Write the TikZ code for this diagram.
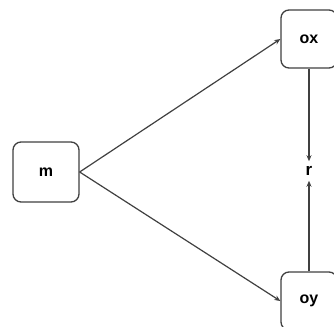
\documentclass[tikz,border=0pt]{standalone}
\usepackage{fontspec}
\setmainfont{Liberation Sans}
\usetikzlibrary{arrows.meta}
\begin{document}
\begin{tikzpicture}[x=1pt,y=-1pt,
  box/.style={draw=black!75, line width=1.3pt, rounded corners=8pt, fill=white,
    minimum width=66pt, minimum height=60pt, inner sep=0pt, font=\bfseries\fontsize{16}{17}\selectfont},
  box2/.style={box, minimum width=56pt, minimum height=58pt},
  lbl/.style={inner sep=5pt, font=\bfseries\fontsize{17}{18}\selectfont},
  arr/.style={draw=black!75, line width=1.2pt, -{Stealth[length=6pt,width=5pt]}}]
\useasboundingbox (0,0) rectangle (334,326);
\node[box] (m) at (46,172) {m};
\node[box2] (ox) at (309,39) {ox};
\node[box2] (oy) at (309,301) {oy};
\node[lbl] (r) at (309,171) {r};
\draw[arr] (m.east) -- (ox.west);
\draw[arr] (m.east) -- (oy.west);
\draw[arr] (ox.south -| r) -- (r.north);
\draw[arr] (oy.north -| r) -- (r.south);
\end{tikzpicture}
\end{document}
